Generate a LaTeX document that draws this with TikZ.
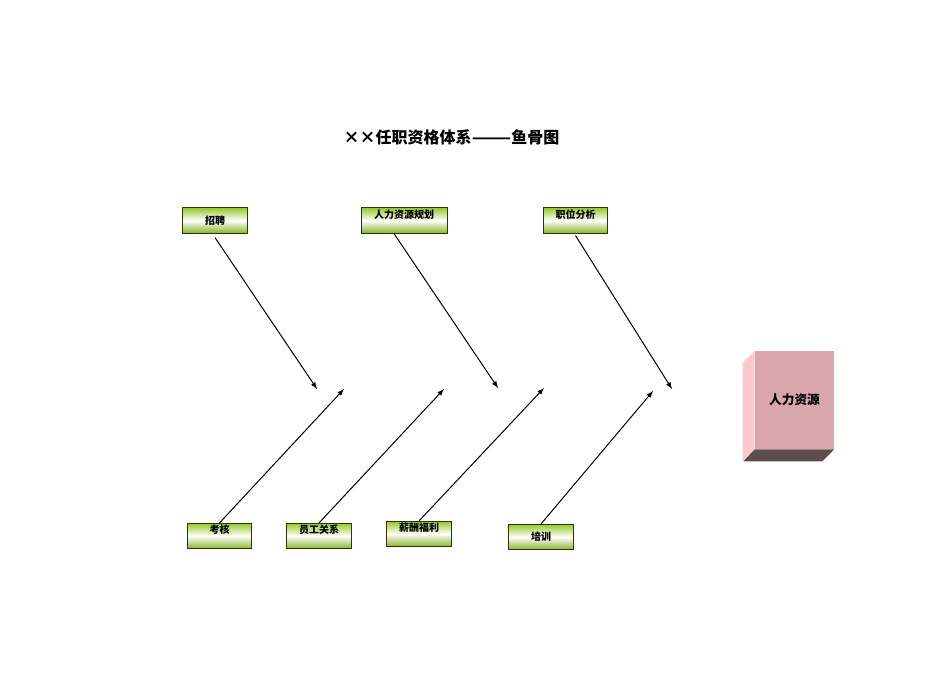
\documentclass[tikz,border=0pt]{standalone}
\usepackage{fontspec}
\setmainfont{Noto Sans CJK SC}
\usepackage{xcolor}

\begin{document}
\begin{tikzpicture}[x=0.75pt,y=-0.75pt,
        bone/.style={draw=bonedraw, line width=0.6pt, inner sep=0pt,
            top color=bonegreen, bottom color=bonegreen!90!black, middle color=white,
            minimum width=48.5pt, text height=12.4pt, text depth=6.6pt,
            font=\bfseries\fontsize{7.5pt}{8pt}\selectfont},
        raised/.style={text height=7.8pt, text depth=11.2pt},
        arr/.style={-latex, line width=0.75pt}]
        % Define colors
        \definecolor{bonegreen}{RGB}{150,200,45}
        \definecolor{bonedraw}{RGB}{51,51,0}
        \definecolor{facefront}{RGB}{216,166,172}
        \definecolor{faceside}{RGB}{255,200,205}
        \definecolor{facebottom}{RGB}{94,76,78}
        
        \useasboundingbox (0,0) rectangle (950,672);
        
        % Title
        \node[font=\bfseries\fontsize{12pt}{14pt}\selectfont] (title) at (451.5,137)
            {××任职资格体系\scalebox{1.45}[1]{——}鱼骨图};
        
        % Upper bones
        \node[bone] (zp) at (215,220.5) {招聘};
        \node[bone, raised, minimum width=64.5pt] (rl) at (404,220.5) {人力资源规划};
        \node[bone, raised] (zw) at (575.5,220.5) {职位分析};
        
        % Lower bones
        \node[bone, raised] (kh) at (219.5,536) {考核};
        \node[bone, raised] (yg) at (319,536) {员工关系};
        \node[bone, raised] (xc) at (419,534) {薪酬福利};
        \node[bone] (px) at (541,537) {培训};
        
        % Arrow heads on the spine
        \coordinate (h1) at (317,389);
        \coordinate (h2) at (498,388);
        \coordinate (h3) at (672,389);
        \coordinate (h4) at (344,389);
        \coordinate (h5) at (444,389);
        \coordinate (h6) at (544,388);
        \coordinate (h7) at (653,391);
        
        % Draw bones
        \draw[arr] ([yshift=-3pt]zp.south) -- (h1);
        \draw[arr] ([xshift=-7.5pt]rl.south) -- (h2);
        \draw[arr] ([yshift=-1.5pt]zw.south) -- (h3);
        \draw[arr] (kh.north) -- (h4);
        \draw[arr] (yg.north) -- (h5);
        \draw[arr] (xc.north) -- (h6);
        \draw[arr] (px.north) -- (h7);
        
        % Head of the fish
        \node[fill=facefront, minimum width=59.25pt, minimum height=73.5pt, inner sep=0pt,
            font=\bfseries\fontsize{9.5pt}{11pt}\selectfont] (hr) at (794.5,400) {人力资源};
        \fill[faceside] (hr.north west) -- ++(-12,12) -- ++(0,98) -- (hr.south west) -- cycle;
        \fill[facebottom] (hr.south west) -- (hr.south east) -- ++(-12,12) -- ++(-79,0) -- cycle;
        
    \end{tikzpicture}
\end{document}
